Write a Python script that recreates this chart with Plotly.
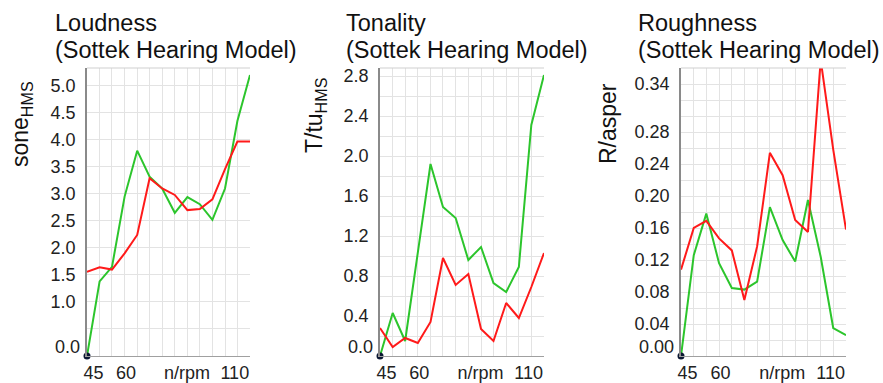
import plotly.graph_objects as go

W, H = 883, 383

# ---------------- data ----------------
rpm = [42.0, 47.8, 53.5, 59.3, 65.1, 70.8, 76.6, 82.4, 88.2, 93.9, 99.7, 105.5, 111.2, 117.0]

loud_green = [0.0, 1.38, 1.65, 2.95, 3.80, 3.32, 3.10, 2.65, 2.94, 2.81, 2.52, 3.10, 4.35, 5.20]
loud_red = [1.56, 1.64, 1.60, 1.90, 2.24, 3.29, 3.10, 2.98, 2.70, 2.72, 2.90, 3.46, 3.97, 3.97]

ton_green = [0.0, 0.43, 0.15, 1.03, 1.92, 1.49, 1.38, 0.96, 1.09, 0.73, 0.64, 0.89, 2.31, 2.81]
ton_red = [0.28, 0.09, 0.18, 0.13, 0.34, 0.98, 0.71, 0.82, 0.27, 0.15, 0.53, 0.38, 0.69, 1.03]

rough_green = [0.0, 0.126, 0.178, 0.116, 0.085, 0.083, 0.093, 0.186, 0.145, 0.118, 0.195, 0.124, 0.035, 0.026]
rough_red = [0.108, 0.160, 0.169, 0.147, 0.132, 0.070, 0.137, 0.254, 0.226, 0.170, 0.155, 0.370, 0.258, 0.158]

titles = ["Loudness", "Tonality", "Roughness"]
subtitle = "(Sottek Hearing Model)"
ytitles = ["sone<sub>HMS</sub>", "T/tu<sub>HMS</sub>", "R/asper"]

y_ranges = [[0, 5.33], [0, 2.88], [0, 0.36]]
y_tickvals = [[1.0, 1.5, 2.0, 2.5, 3.0, 3.5, 4.0, 4.5, 5.0],
              [0.4, 0.8, 1.2, 1.6, 2.0, 2.4, 2.8],
              [0.04, 0.08, 0.12, 0.16, 0.20, 0.24, 0.28, 0.34]]
y_ticktext = [["1.0", "1.5", "2.0", "2.5", "3.0", "3.5", "4.0", "4.5", "5.0"],
              ["0.4", "0.8", "1.2", "1.6", "2.0", "2.4", "2.8"],
              ["0.04", "0.08", "0.12", "0.16", "0.20", "0.24", "0.28", "0.34"]]
y_zero_text = ["0.0", "0.0", "0.00"]
y_grid_step = [0.5, 0.2, 0.02]

x_tickvals = [45, 60, 88, 110]
x_ticktext = ["45", "60", "n/rpm", "110"]

series = [(loud_green, loud_red), (ton_green, ton_red), (rough_green, rough_red)]

# ---------------- layout geometry (pixels) ----------------
x_px = [(87, 250), (380, 544), (681, 846)]
y_top, y_bot = 68, 356
title_x_px = [53, 344, 636]
ytitle_x_px = [21, 316, 608]
ytitle_y_px = [124, 116, 124]

GREEN = "#2cc52c"
RED = "#ff1a1a"
FONT = "Liberation Sans, Arial, sans-serif"

fig = go.Figure()
layout = dict(
    width=W, height=H,
    margin=dict(l=0, r=0, t=0, b=0, autoexpand=False),
    paper_bgcolor="white", plot_bgcolor="white",
    showlegend=False,
    font=dict(family=FONT, color="#222"),
    annotations=[], shapes=[],
)

ydom = [1 - y_bot / H, 1 - y_top / H]

for k in range(3):
    xa = "x" if k == 0 else f"x{k+1}"
    ya = "y" if k == 0 else f"y{k+1}"
    yo = f"y{k+4}"
    g, r = series[k]
    fig.add_trace(go.Scatter(x=rpm, y=g, mode="lines", line=dict(color=GREEN, width=2),
                             xaxis=xa, yaxis=ya, hoverinfo="skip"))
    fig.add_trace(go.Scatter(x=rpm, y=r, mode="lines", line=dict(color=RED, width=2),
                             xaxis=xa, yaxis=ya, hoverinfo="skip"))
    # origin dot (on overlay axis carrying the shifted zero label)
    fig.add_trace(go.Scatter(x=[rpm[0]], y=[g[0]], mode="markers",
                             marker=dict(color="#0b1733", size=7),
                             cliponaxis=False, xaxis=xa, yaxis=yo, hoverinfo="skip"))

    xdom = [x_px[k][0] / W, x_px[k][1] / W]
    xkey = "xaxis" if k == 0 else f"xaxis{k+1}"
    ykey = "yaxis" if k == 0 else f"yaxis{k+1}"
    layout[xkey] = dict(
        domain=xdom, anchor=ya, range=[rpm[0], rpm[-1]],
        tickmode="array", tickvals=x_tickvals, ticktext=x_ticktext,
        showgrid=False, zeroline=False, automargin=False,
        showline=True, linecolor="#a0a0a0", linewidth=1,
        ticks="", ticklabelstandoff=0,
        tickfont=dict(size=18, color="#222", family=FONT),
        minor=dict(tickmode="array", tickvals=rpm, showgrid=True,
                   gridcolor="#e3e3e3", gridwidth=1, ticks=""),
        fixedrange=True,
    )
    layout[ykey] = dict(
        domain=ydom, anchor=xa, range=y_ranges[k],
        tickmode="array", tickvals=y_tickvals[k], ticktext=y_ticktext[k],
        showgrid=False, zeroline=False, automargin=False,
        showline=True, linecolor="#8a8a8a", linewidth=1.5,
        ticks="", ticklabelstandoff=6,
        tickfont=dict(size=18, color="#222", family=FONT),
        minor=dict(dtick=y_grid_step[k], tick0=0, showgrid=True,
                   gridcolor="#e3e3e3", gridwidth=1, ticks=""),
        fixedrange=True,
    )
    layout[f"yaxis{k+4}"] = dict(
        overlaying=ya, anchor=xa, range=y_ranges[k], side="left",
        tickmode="array", tickvals=[0], ticktext=[y_zero_text[k]],
        showgrid=False, zeroline=False, showline=False, automargin=False,
        ticks="", ticklabelstandoff=6, ticklabelshift=-9,
        tickfont=dict(size=18, color="#222", family=FONT),
        fixedrange=True,
    )
    # top border of plot area
    layout["shapes"].append(dict(type="line", xref=f"{xa} domain", yref=f"{ya} domain",
                                 x0=0, x1=1, y0=1, y1=1,
                                 line=dict(color="#cfcfcf", width=1)))
    # titles
    layout["annotations"].append(dict(text=titles[k], xref="paper", yref="paper",
                                      x=title_x_px[k] / W, y=1 - 23 / H,
                                      xanchor="left", yanchor="middle", showarrow=False,
                                      font=dict(size=23.5, color="#111", family=FONT)))
    layout["annotations"].append(dict(text=subtitle, xref="paper", yref="paper",
                                      x=title_x_px[k] / W, y=1 - 50 / H,
                                      xanchor="left", yanchor="middle", showarrow=False,
                                      font=dict(size=23.5, color="#111", family=FONT)))
    layout["annotations"].append(dict(text=ytitles[k], xref="paper", yref="paper",
                                      x=ytitle_x_px[k] / W, y=1 - ytitle_y_px[k] / H,
                                      xanchor="center", yanchor="middle", showarrow=False,
                                      textangle=-90,
                                      font=dict(size=23, color="#111", family=FONT)))

fig.update_layout(**layout)
fig.write_html("out.html")
